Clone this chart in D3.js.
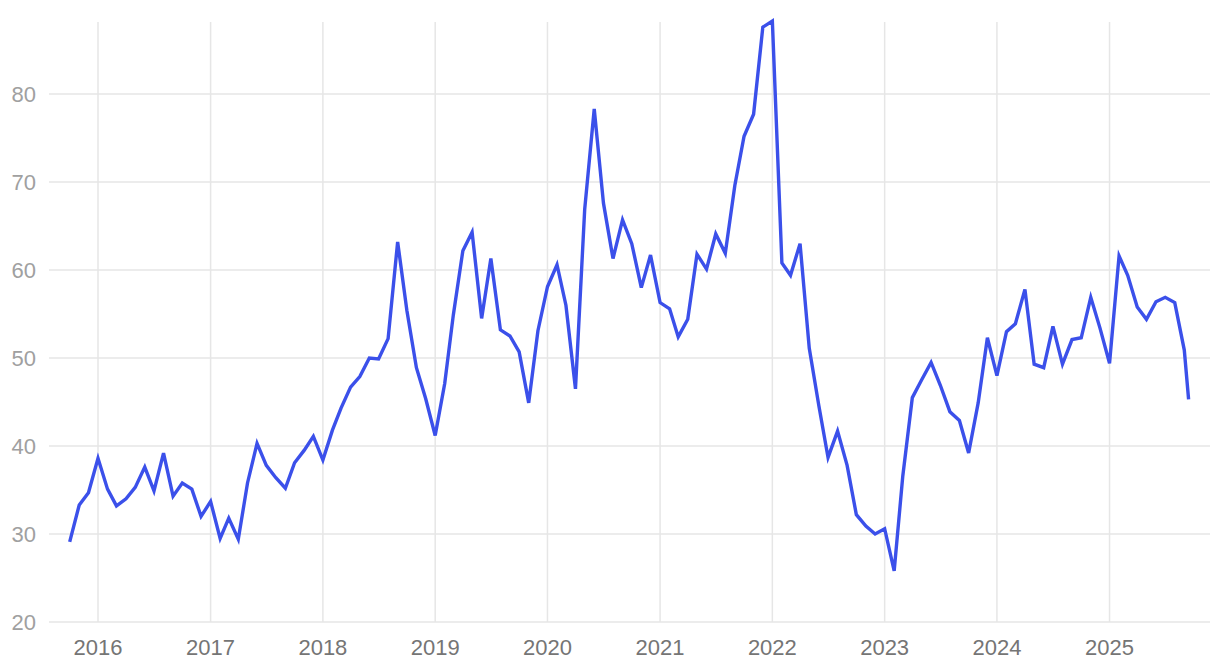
<!DOCTYPE html>
<html>
<head>
<meta charset="utf-8">
<script src="https://cdn.jsdelivr.net/npm/d3@7"></script>
<style>
  html, body { margin: 0; padding: 0; background: #fff; }
  svg { display: block; font-family: "Liberation Sans", Arial, Helvetica, sans-serif; }
</style>
</head>
<body>
<svg id="chart" width="1220" height="668"></svg>
<script>
// Monthly observations, first-of-month dates (last point mid-month)
const startMonth = "2015-10-01";
const values2015 = [29.1, 33.3, 34.7];
const values2016 = [38.6, 35.1, 33.2, 34.0, 35.3, 37.6, 34.9, 39.2, 34.3, 35.8, 35.1, 32.0];
const values2017 = [33.7, 29.5, 31.8, 29.4, 35.8, 40.3, 37.8, 36.4, 35.2, 38.1, 39.5, 41.1];
const values2018 = [38.4, 41.8, 44.3, 46.7, 47.9, 50.0, 49.9, 52.2, 63.2, 55.4, 48.9, 45.4];
const values2019 = [41.2, 47.1, 54.9, 62.2, 64.3, 54.5, 61.3, 53.2, 52.5, 50.7, 44.9, 53.1];
const values2020 = [58.1, 60.6, 56.0, 46.5, 66.9, 78.3, 67.6, 61.3, 65.7, 63.0, 58.0, 61.7];
const values2021 = [56.3, 55.6, 52.4, 54.4, 61.8, 60.1, 64.1, 61.9, 69.6, 75.2, 77.7, 87.6];
const values2022 = [88.3, 60.8, 59.4, 63.0, 51.1, 44.6, 38.7, 41.7, 37.8, 32.2, 30.9, 30.0];
const values2023 = [30.6, 25.8, 36.6, 45.5, 47.5, 49.5, 46.9, 43.9, 42.9, 39.2, 44.9, 52.3];
const values2024 = [48.0, 53.0, 53.9, 57.8, 49.3, 48.9, 53.6, 49.3, 52.1, 52.3, 56.9, 53.4];
const values2025 = [49.4, 61.6, 59.4, 55.8, 54.4, 56.4, 56.9, 56.3, 50.9];
const lastDate = "2025-09-15";
const lastValue = 45.3;

const yTicks = [20, 30, 40, 50, 60, 70, 80];
const xTickYears = [2016, 2017, 2018, 2019, 2020, 2021, 2022, 2023, 2024, 2025];

// Build the series
const monthly = [].concat(values2015, values2016, values2017, values2018, values2019,
                          values2020, values2021, values2022, values2023, values2024, values2025);
const parse = d3.utcParse("%Y-%m-%d");
const start = parse(startMonth);
const data = monthly.map((v, i) => ({ date: d3.utcMonth.offset(start, i), value: v }));
data.push({ date: parse(lastDate), value: lastValue });

const plotLeft = 49, plotRight = 1210;
const svg = d3.select("#chart");

const x = d3.scaleUtc()
  .domain(d3.extent(data, d => d.date))
  .range([69.7, 1188.6]);

const y = d3.scaleLinear()
  .domain([20, d3.max(data, d => d.value)])
  .range([622, 21]);

// horizontal grid
svg.append("g")
  .selectAll("line")
  .data(yTicks)
  .join("line")
  .attr("x1", plotLeft).attr("x2", plotRight)
  .attr("y1", d => y(d)).attr("y2", d => y(d))
  .attr("stroke", "#e6e6e6").attr("stroke-width", 1.5);

// vertical grid
const yearDates = xTickYears.map(yr => new Date(Date.UTC(yr, 0, 1)));
svg.append("g")
  .selectAll("line")
  .data(yearDates)
  .join("line")
  .attr("x1", d => x(d)).attr("x2", d => x(d))
  .attr("y1", 22).attr("y2", 622)
  .attr("stroke", "#e6e6e6").attr("stroke-width", 1.5);

// y labels
svg.append("g")
  .selectAll("text")
  .data(yTicks)
  .join("text")
  .attr("x", 36)
  .attr("y", d => y(d))
  .attr("dy", "0.36em")
  .attr("text-anchor", "end")
  .attr("fill", "#a0a0a0")
  .attr("font-size", 22)
  .text(d => d);

// x labels
svg.append("g")
  .selectAll("text")
  .data(yearDates)
  .join("text")
  .attr("x", d => x(d))
  .attr("y", 655)
  .attr("text-anchor", "middle")
  .attr("fill", "#757575")
  .attr("font-size", 22)
  .text(d => d.getUTCFullYear());

// line
const line = d3.line()
  .x(d => x(d.date))
  .y(d => y(d.value));

svg.append("path")
  .datum(data)
  .attr("fill", "none")
  .attr("stroke", "#3b50ea")
  .attr("stroke-width", 3.4)
  .attr("stroke-linejoin", "miter")
  .attr("d", line);
</script>
</body>
</html>
